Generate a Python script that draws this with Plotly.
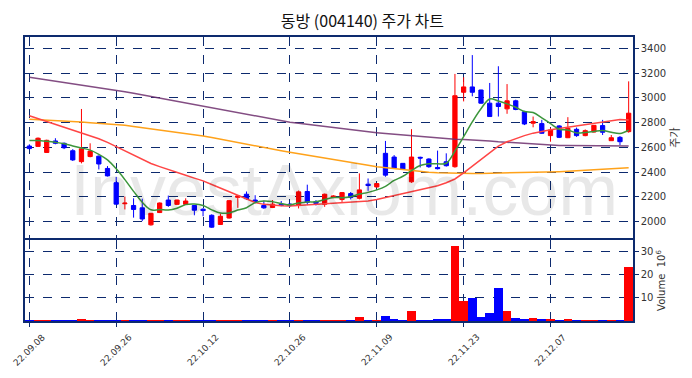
import plotly.graph_objects as go

# ---------------- data ----------------
dates = ["22.09.08", "22.09.26", "22.10.12", "22.10.26", "22.11.09", "22.11.23", "22.12.07"]
tick_idx = [0, 10, 20, 30, 40, 50, 60]

opens = [2611, 2608, 2559, 2652, 2633, 2573, 2485, 2526, 2529, 2430,
         2315, 2145, 2131, 2112, 1975, 2074, 2175, 2140, 2140, 2131,
         2101, 2052, 1978, 2030, 2197, 2222, 2175, 2131, 2115, 2140,
         2142, 2134, 2244, 2162, 2140, 2195, 2179, 2227, 2189, 2303,
         2281, 2552, 2522, 2471, 2322, 2520, 2506, 2438, 2484, 2444,
         3045, 3088, 3063, 2957, 2957, 2911, 2976, 2887, 2795, 2792,
         2695, 2773, 2678, 2746, 2695, 2724, 2776, 2654, 2681, 2727]
highs = [2625, 2680, 2662, 2674, 2640, 2586, 2910, 2633, 2535, 2449,
         2362, 2203, 2189, 2186, 2070, 2155, 2211, 2178, 2189, 2135,
         2110, 2060, 2066, 2175, 2216, 2244, 2214, 2170, 2175, 2167,
         2150, 2252, 2299, 2175, 2227, 2215, 2240, 2240, 2390, 2349,
         2308, 2652, 2538, 2471, 2747, 2525, 2512, 2574, 2552, 3193,
         3166, 3345, 3065, 3120, 3255, 3111, 2985, 2895, 2849, 2822,
         2757, 2780, 2844, 2760, 2745, 2780, 2822, 2700, 2692, 3133]
lows = [2585, 2605, 2555, 2625, 2586, 2490, 2471, 2520, 2422, 2365,
        2140, 2099, 2033, 2005, 1968, 2070, 2120, 2135, 2135, 2052,
        2044, 1950, 1975, 2025, 2112, 2175, 2148, 2104, 2110, 2125,
        2120, 2107, 2134, 2131, 2120, 2190, 2160, 2180, 2180, 2249,
        2275, 2363, 2428, 2420, 2314, 2438, 2435, 2422, 2445, 2436,
        2971, 3012, 2952, 2849, 2849, 2871, 2900, 2780, 2762, 2710,
        2646, 2675, 2675, 2685, 2690, 2720, 2700, 2654, 2619, 2719]
closes = [2590, 2674, 2657, 2633, 2597, 2499, 2589, 2570, 2466, 2370,
          2142, 2150, 2099, 2022, 2068, 2151, 2131, 2175, 2167, 2093,
          2090, 1956, 2044, 2170, 2208, 2186, 2164, 2112, 2142, 2131,
          2131, 2241, 2156, 2148, 2222, 2208, 2235, 2195, 2257, 2292,
          2308, 2376, 2433, 2425, 2522, 2514, 2444, 2428, 2452, 3017,
          3088, 3045, 2957, 2849, 2930, 2976, 2906, 2789, 2808, 2714,
          2741, 2681, 2754, 2695, 2735, 2778, 2722, 2678, 2646, 2876]
volumes = [0.3, 0.4, 0.4, 0.3, 0.3, 0.3, 0.9, 0.4, 0.3, 0.3,
           0.4, 0.4, 0.3, 0.3, 0.4, 0.3, 0.3, 0.3, 0.4, 0.3,
           0.3, 0.3, 0.3, 0.4, 0.4, 0.3, 0.3, 0.3, 0.4, 0.3,
           0.3, 0.4, 0.3, 0.3, 0.3, 0.4, 0.4, 0.4, 1.7, 0.4,
           0.4, 2.2, 0.9, 0.4, 4.3, 0.4, 0.3, 0.9, 0.9, 32.2,
           8.7, 10.0, 1.7, 3.5, 14.3, 4.3, 1.3, 0.9, 1.3, 0.9,
           0.9, 0.4, 0.9, 0.4, 0.4, 0.4, 0.4, 0.4, 0.4, 23.0]
ma5 = [2655, 2655, 2649, 2641, 2630, 2612, 2595, 2578, 2544, 2499,
       2427, 2340, 2245, 2157, 2096, 2098, 2094, 2109, 2138, 2143,
       2131, 2096, 2070, 2071, 2094, 2113, 2154, 2168, 2162, 2147,
       2136, 2151, 2160, 2161, 2180, 2195, 2194, 2202, 2223, 2237,
       2257, 2286, 2333, 2367, 2413, 2454, 2468, 2467, 2472, 2571,
       2686, 2806, 2912, 2991, 2974, 2951, 2924, 2890, 2882, 2839,
       2792, 2747, 2740, 2717, 2721, 2729, 2737, 2722, 2712, 2740]
ma20 = [2856, 2833, 2810, 2785, 2760, 2738, 2715, 2692, 2670, 2640,
        2605, 2570, 2535, 2502, 2470, 2445, 2420, 2397, 2375, 2352,
        2330, 2300, 2270, 2240, 2210, 2180, 2155, 2140, 2133, 2128,
        2126, 2130, 2137, 2143, 2148, 2150, 2152, 2155, 2160, 2168,
        2180, 2195, 2210, 2225, 2240, 2255, 2270, 2290, 2315, 2345,
        2395, 2450, 2505, 2560, 2610, 2645, 2672, 2695, 2715, 2730,
        2742, 2752, 2763, 2773, 2783, 2795, 2808, 2818, 2825, 2822]
ma60 = [2827, 2824, 2820, 2816, 2812, 2808, 2804, 2799, 2795, 2790,
        2786, 2778, 2769, 2760, 2751, 2742, 2733, 2723, 2713, 2703,
        2692, 2679, 2665, 2652, 2638, 2625, 2612, 2599, 2586, 2573,
        2560, 2549, 2538, 2526, 2515, 2503, 2491, 2479, 2468, 2456,
        2444, 2436, 2428, 2420, 2412, 2404, 2400, 2396, 2393, 2391,
        2390, 2390, 2390, 2391, 2392, 2394, 2395, 2397, 2399, 2400,
        2402, 2404, 2407, 2411, 2415, 2419, 2423, 2427, 2432, 2436]
ma120 = [3166, 3156, 3146, 3136, 3126, 3115, 3105, 3095, 3084, 3074,
         3063, 3050, 3037, 3024, 3010, 2997, 2984, 2970, 2957, 2943,
         2930, 2916, 2902, 2889, 2875, 2863, 2851, 2839, 2827, 2815,
         2803, 2795, 2786, 2778, 2770, 2761, 2753, 2744, 2736, 2727,
         2719, 2712, 2706, 2699, 2693, 2686, 2681, 2676, 2670, 2665,
         2663, 2661, 2658, 2652, 2646, 2641, 2636, 2630, 2625, 2621,
         2617, 2616, 2616, 2615, 2614, 2614, 2613, 2612, 2612, 2611]
price_ticks = [2000, 2200, 2400, 2600, 2800, 3000, 3200, 3400]
vol_ticks = [10, 20, 30]

# ---------------- figure ----------------
x = list(range(len(closes)))
UP, DOWN = "#ff0000", "#0000ff"
NAVY = "#0d2a6e"
vol_colors = [UP if c >= o else DOWN for o, c in zip(opens, closes)]

fig = go.Figure()
fig.add_trace(go.Scatter(x=x, y=ma120, mode="lines", line=dict(color="#6e2f6e", width=1.5),
                         opacity=0.85, xaxis="x", yaxis="y", showlegend=False))
fig.add_trace(go.Scatter(x=x, y=ma60, mode="lines", line=dict(color="#ffa21a", width=1.5),
                         xaxis="x", yaxis="y", showlegend=False))
fig.add_trace(go.Scatter(x=x, y=ma20, mode="lines", line=dict(color="#ff4545", width=1.5),
                         xaxis="x", yaxis="y", showlegend=False))
fig.add_trace(go.Scatter(x=x, y=ma5, mode="lines", line=dict(color="#3c963c", width=1.5, shape="spline"),
                         xaxis="x", yaxis="y", showlegend=False))
fig.add_trace(go.Candlestick(x=x, open=opens, high=highs, low=lows, close=closes,
                             increasing=dict(line=dict(color=UP, width=1), fillcolor=UP),
                             decreasing=dict(line=dict(color=DOWN, width=1), fillcolor=DOWN),
                             whiskerwidth=0, xaxis="x", yaxis="y", showlegend=False))
fig.add_trace(go.Bar(x=x, y=volumes, marker=dict(color=vol_colors, line=dict(width=0)),
                     width=1.0, xaxis="x2", yaxis="y2", showlegend=False))

grid = dict(showgrid=True, gridcolor=NAVY, griddash="dash", gridwidth=1)
frame = dict(showline=True, linecolor=NAVY, linewidth=1.5, mirror=True, zeroline=False, automargin=False)
tickfont = dict(family="DejaVu Sans", size=10, color="#333333")

# rotated date labels centred under their ticks (as in the reference)
date_labels = [dict(text=d, x=t, xref="x2", y=-0.102, yref="paper", xanchor="center", yanchor="middle",
                    textangle=-45, showarrow=False,
                    font=dict(family="DejaVu Sans", size=9, color="#333333"))
               for d, t in zip(dates, tick_idx)]

# the page adds a small body offset; size/margins compensate so the plot lands where the reference has it
fig.update_layout(
    width=684, height=370,
    margin=dict(l=17, r=59, t=29, b=57, autoexpand=False),
    paper_bgcolor="white", plot_bgcolor="white",
    title=dict(text="동방 (004140) 주가 차트", x=0.555, xanchor="center", y=0.965, yanchor="middle",
               xref="paper", font=dict(family="Noto Sans CJK KR", size=16, color="#111111")),
    xaxis=dict(domain=[0, 1], range=[-0.5, 69.5], anchor="y", tickvals=tick_idx,
               showticklabels=False, ticks="", rangeslider=dict(visible=False), **grid, **frame),
    yaxis=dict(domain=[0.292, 1], range=[1868, 3491], side="right", anchor="x",
               tickvals=price_ticks, ticks="outside", ticklen=4, tickcolor=NAVY, tickfont=tickfont,
               title=dict(text="주가", font=dict(family="Noto Sans CJK KR", size=11, color="#333333"),
                          standoff=6),
               **grid, **frame),
    xaxis2=dict(domain=[0, 1], range=[-0.5, 69.5], anchor="y2", tickvals=tick_idx,
                showticklabels=False, ticks="outside", ticklen=4, tickcolor=NAVY, **grid, **frame),
    yaxis2=dict(domain=[0, 0.285], range=[0, 34.8], side="right", anchor="x2",
                tickvals=vol_ticks, ticks="outside", ticklen=4, tickcolor=NAVY, tickfont=tickfont,
                title=dict(text="Volume  10<sup>6</sup>", font=dict(family="DejaVu Sans", size=10, color="#333333"),
                           standoff=6),
                **grid, **frame),
    bargap=0,
    annotations=[dict(text="InvestAxiom.com", xref="paper", yref="paper", x=0.525, y=0.46,
                      xanchor="center", yanchor="middle", showarrow=False,
                      font=dict(family="Liberation Sans", size=72, color="rgba(0,0,0,0.09)"))]
                + date_labels,
)

fig.write_html("out.html")
